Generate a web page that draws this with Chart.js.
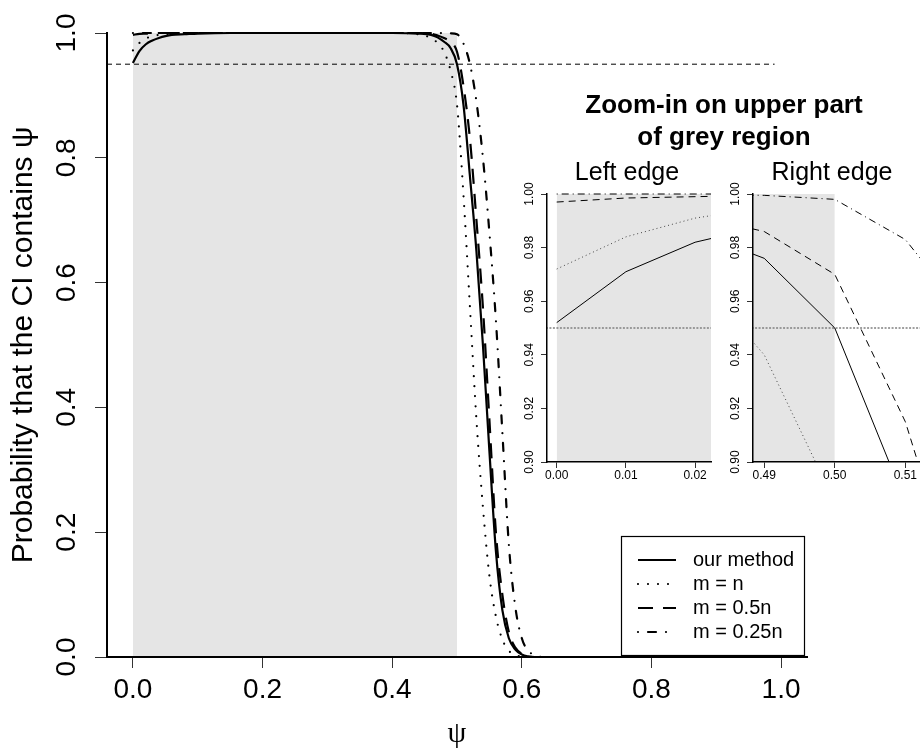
<!DOCTYPE html>
<html>
<head>
<meta charset="utf-8">
<title>Coverage of the CI</title>
<script src="https://cdn.jsdelivr.net/npm/chart.js@4.4.1/dist/chart.umd.min.js"></script>
<style>
  html, body { margin: 0; padding: 0; background: #fff; overflow: hidden; }
  #wrap { position: relative; width: 920px; height: 749px; overflow: hidden; }
  canvas { position: absolute; }
  .txt { position: absolute; font-family: "Liberation Sans", Arial, sans-serif; color: #000;
         white-space: nowrap; line-height: 1; text-align: center; }
  .head { font-size: 26px; font-weight: bold; width: 400px; left: 524px; }
  .sub { font-size: 25px; width: 200px; top: 159px; }
</style>
</head>
<body>
<div id="wrap">
  <canvas id="main" width="920" height="749" style="left:0;top:0;width:920px;height:749px"></canvas>
  <canvas id="insetLeft" width="220" height="310" style="left:495px;top:180px;width:220px;height:310px"></canvas>
  <canvas id="insetRight" width="208" height="310" style="left:715px;top:180px;width:208px;height:310px"></canvas>
  <div class="txt head" style="top:91px">Zoom-in on upper part</div>
  <div class="txt head" style="top:123px">of grey region</div>
  <div class="txt sub" style="left:527px">Left edge</div>
  <div class="txt sub" style="left:732px">Right edge</div>
</div>
<script>
// psi grid (fine near the edges of the grey region)
const psi = [0, 0.01, 0.02, 0.03, 0.04, 0.05, 0.06, 0.08, 0.1, 0.15, 0.2, 0.3, 0.4, 0.44,
  0.46, 0.47, 0.48, 0.49, 0.5, 0.51, 0.52, 0.53, 0.54, 0.55, 0.56, 0.57, 0.58, 0.59,
  0.6, 0.61, 0.62, 0.63, 0.65, 0.7, 0.8, 0.9, 1.0];

// coverage probabilities
const ourMethod = [0.952, 0.971, 0.982, 0.988, 0.992, 0.995, 0.997, 0.998, 0.999, 1, 1, 1, 1, 0.999,
  0.997, 0.993, 0.986, 0.976, 0.950, 0.885, 0.77, 0.65, 0.50, 0.33, 0.17, 0.075, 0.03, 0.012,
  0.004, 0.001, 0, 0, 0, 0, 0, 0, 0];
const mEqualN = [0.972, 0.984, 0.991, 0.995, 0.997, 0.998, 0.999, 1, 1, 1, 1, 1, 1, 0.998,
  0.992, 0.984, 0.970, 0.940, 0.885, 0.74, 0.56, 0.38, 0.24, 0.13, 0.065, 0.028, 0.01, 0.003,
  0.001, 0, 0, 0, 0, 0, 0, 0, 0];
const mHalfN = [0.997, 0.9985, 0.999, 0.9995, 1, 1, 1, 1, 1, 1, 1, 1, 1, 1,
  0.999, 0.996, 0.992, 0.986, 0.970, 0.915, 0.83, 0.70, 0.56, 0.38, 0.20, 0.10, 0.04, 0.015,
  0.005, 0.001, 0, 0, 0, 0, 0, 0, 0];
const mQuarterN = [1, 1, 1, 1, 1, 1, 1, 1, 1, 1, 1, 1, 1, 1,
  1, 1, 0.9998, 0.9995, 0.998, 0.983, 0.95, 0.89, 0.80, 0.68, 0.54, 0.36, 0.18, 0.08,
  0.03, 0.01, 0.003, 0, 0, 0, 0, 0, 0];

const seriesNames = ["our method", "m = n", "m = 0.5n", "m = 0.25n"];
const greyRegion = [0, 0.5];
const targetLevel = 0.95;
const targetRange = [-0.04, 0.99];

const mainXTicks = [0, 0.2, 0.4, 0.6, 0.8, 1.0];
const mainYTicks = [0, 0.2, 0.4, 0.6, 0.8, 1.0];
const leftXTicks = [0, 0.01, 0.02];
const rightXTicks = [0.49, 0.5, 0.51];
const insetYTicks = [0.9, 0.92, 0.94, 0.96, 0.98, 1.0];

Chart.defaults.font.family = '"Liberation Sans", Arial, Helvetica, sans-serif';
Chart.defaults.color = "#000";
Chart.defaults.animation = false;

const toPoints = (ys) => psi.map((x, i) => ({ x: x, y: ys[i] }));

const seriesDatasets = (style) =>
  [ourMethod, mEqualN, mHalfN, mQuarterN].map((ys, i) => ({
    label: seriesNames[i],
    data: toPoints(ys),
    borderColor: style.colors[i],
    borderWidth: style.width,
    borderDash: style.dashes[i],
    borderCapStyle: style.caps[i],
    pointRadius: 0,
    fill: false,
    tension: 0,
    cubicInterpolationMode: style.smooth ? "monotone" : "default",
    clip: style.clip,
    order: 1,
  }));

const greyDataset = () => ({
  label: "grey",
  data: [{ x: greyRegion[0], y: 1 }, { x: greyRegion[1], y: 1 }],
  borderWidth: 0,
  backgroundColor: "#e5e5e5",
  fill: "origin",
  pointRadius: 0,
  order: 10,
});

const targetDataset = (color, width, dash) => ({
  label: "target",
  data: targetRange.map((x) => ({ x: x, y: targetLevel })),
  borderColor: color,
  borderWidth: width,
  borderDash: dash,
  pointRadius: 0,
  fill: false,
  order: 5,
});

const mainStyle = {
  colors: ["#000", "#000", "#000", "#000"],
  width: 2.2,
  dashes: [[], [0, 10], [15, 10], [0, 10, 8, 10]],
  caps: ["butt", "round", "butt", "round"],
  smooth: true,
  clip: { left: 0, top: 3, right: 0, bottom: 2 },
};

const insetStyle = {
  colors: ["#000", "#444", "#000", "#000"],
  width: 1,
  dashes: [[], [1, 3], [7, 5], [1, 4, 7, 4]],
  caps: ["butt", "butt", "butt", "butt"],
  smooth: false,
  clip: { left: 0, top: 2, right: 0, bottom: 0 },
};

// legend box inside the lower right corner of the main panel
const legendBox = {
  id: "legendBox",
  afterDatasetsDraw(chart) {
    const { ctx, chartArea } = chart;
    const w = 183, h = 119;
    const left = chartArea.right - 3 - w;
    const top = chartArea.bottom - 2 - h;
    ctx.save();
    ctx.fillStyle = "#fff";
    ctx.fillRect(left, top, w, h);
    ctx.strokeStyle = "#000";
    ctx.lineWidth = 1.2;
    ctx.strokeRect(left + 0.5, top + 0.5, w, h);
    ctx.font = '20px "Liberation Sans", Arial, sans-serif';
    ctx.textBaseline = "middle";
    ctx.textAlign = "left";
    seriesNames.forEach((name, i) => {
      const y = top + 24 + i * 24;
      ctx.beginPath();
      ctx.setLineDash(mainStyle.dashes[i]);
      ctx.lineCap = mainStyle.caps[i];
      ctx.lineWidth = mainStyle.width;
      ctx.moveTo(left + 17, y);
      ctx.lineTo(left + 55, y);
      ctx.stroke();
      ctx.setLineDash([]);
      ctx.fillStyle = "#000";
      ctx.fillText(name, left + 72, y);
    });
    ctx.restore();
  },
};

new Chart(document.getElementById("main"), {
  type: "line",
  data: {
    datasets: [
      ...seriesDatasets(mainStyle),
      targetDataset("#000", 1, [5, 4]),
      greyDataset(),
    ],
  },
  options: {
    responsive: false,
    layout: { padding: { top: 33, right: 113, left: 0, bottom: 0 } },
    plugins: { legend: { display: false }, tooltip: { enabled: false } },
    scales: {
      x: {
        type: "linear",
        min: -0.04,
        max: 1.04,
        afterBuildTicks: (s) => { s.ticks = mainXTicks.map((v) => ({ value: v })); },
        afterFit: (s) => { s.height = 92; },
        grid: { drawOnChartArea: false, tickLength: 11, color: "#333", lineWidth: 1 },
        border: { display: true, color: "#000", width: 2, z: 1 },
        ticks: { font: { size: 28 }, padding: 5, maxRotation: 0, callback: (v) => v.toFixed(1) },
        title: {
          display: true,
          text: "ψ",
          font: { family: '"Liberation Serif", "DejaVu Serif", serif', size: 30, lineHeight: 1 },
          padding: { top: 0, bottom: 0 },
        },
      },
      y: {
        type: "linear",
        min: 0,
        max: 1,
        afterBuildTicks: (s) => { s.ticks = mainYTicks.map((v) => ({ value: v })); },
        afterFit: (s) => { s.width = 107; },
        grid: { drawOnChartArea: false, tickLength: 12, color: "#333", lineWidth: 1 },
        border: { display: true, color: "#000", width: 2, z: 1 },
        ticks: {
          font: { size: 28 },
          padding: 8,
          minRotation: 90,
          maxRotation: 90,
          crossAlign: "center",
          callback: (v) => v.toFixed(1),
        },
        title: {
          display: true,
          text: "Probability that the CI contains ψ",
          font: { size: 30 },
          padding: { top: 6, bottom: 0 },
        },
      },
    },
  },
  plugins: [legendBox],
});

const initInset = (id, xMin, xMax, xTicks, axisWidth, rightPad) =>
  new Chart(document.getElementById(id), {
    type: "line",
    data: {
      datasets: [
        ...seriesDatasets(insetStyle),
        targetDataset("#808080", 1.5, [2, 1.5]),
        greyDataset(),
      ],
    },
    options: {
      responsive: false,
      layout: { padding: { top: 14, right: rightPad, left: 0, bottom: 0 } },
      plugins: { legend: { display: false }, tooltip: { enabled: false } },
      scales: {
        x: {
          type: "linear",
          min: xMin,
          max: xMax,
          afterBuildTicks: (s) => { s.ticks = xTicks.map((v) => ({ value: v })); },
          afterFit: (s) => { s.height = 28; },
          grid: { drawOnChartArea: false, tickLength: 6, color: "#333", lineWidth: 1 },
          border: { display: true, color: "#000", width: 1.5, z: 1 },
          ticks: { font: { size: 12 }, padding: 0, maxRotation: 0, callback: (v) => v.toFixed(2) },
        },
        y: {
          type: "linear",
          min: 0.9,
          max: 1.0,
          afterBuildTicks: (s) => { s.ticks = insetYTicks.map((v) => ({ value: v })); },
          afterFit: (s) => { s.width = axisWidth; },
          grid: { drawOnChartArea: false, tickLength: 6, color: "#333", lineWidth: 1 },
          border: { display: true, color: "#000", width: 1.5, z: 1 },
          ticks: {
            font: { size: 12 },
            padding: 0,
            minRotation: 90,
            maxRotation: 90,
            crossAlign: "center",
            callback: (v) => v.toFixed(2),
          },
        },
      },
    },
  });

initInset("insetLeft", -0.0014, 0.0223, leftXTicks, 52, 4);
initInset("insetRight", 0.48841, 0.5125, rightXTicks, 38, 0);
</script>
</body>
</html>
